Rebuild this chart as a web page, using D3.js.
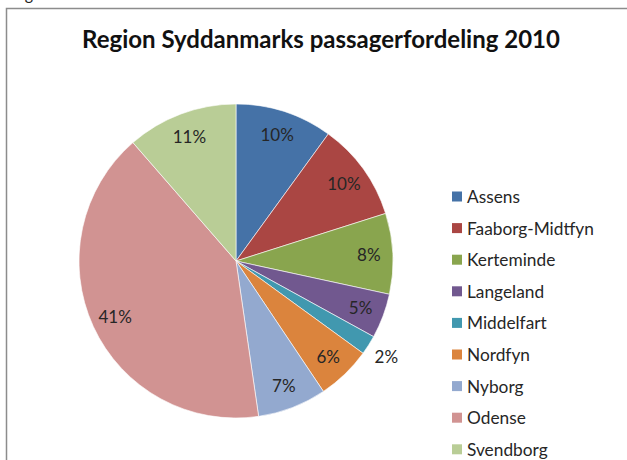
<!DOCTYPE html>
<html>
<head>
<meta charset="utf-8">
<script src="https://cdn.jsdelivr.net/npm/d3@7"></script>
<style>
  body { margin: 0; background: #fff; }
  svg { display: block; font-family: Lato, "Open Sans", sans-serif; }
</style>
</head>
<body>
<div id="chart"></div>
<script>
// data (share of passengers, %)
var regions = ['Assens', 'Faaborg-Midtfyn', 'Kerteminde', 'Langeland', 'Middelfart',
               'Nordfyn', 'Nyborg', 'Odense', 'Svendborg'];
var shares = [10.0, 10.1, 8.3, 4.6, 2.0, 5.6, 7.1, 40.9, 11.4];
var shareLabels = ['10%', '10%', '8%', '5%', '2%', '6%', '7%', '41%', '11%'];
var colors = ['#4572a7', '#aa4643', '#89a54e', '#71588f', '#4198af',
              '#db843d', '#93a9cf', '#d19392', '#b9cd96'];

var W = 627, H = 460;
var cx = 236, cy = 261, R = 157;

var svg = d3.select('#chart').append('svg')
    .attr('width', W).attr('height', H);

// frame of the embedded chart object
svg.append('path')
    .attr('d', 'M6.5,' + H + 'V8.5H' + W)
    .attr('fill', 'none')
    .attr('stroke', '#8c8c8c')
    .attr('stroke-width', 1.5);

// caption above the frame, mostly cut off
svg.append('text')
    .attr('x', 12).attr('y', 0)
    .attr('font-size', 16)
    .attr('fill', '#222')
    .text('Figur 1');

svg.append('text')
    .attr('x', 321).attr('y', 48)
    .attr('text-anchor', 'middle')
    .attr('font-size', 24)
    .attr('font-weight', 'bold')
    .attr('fill', '#111')
    .text('Region Syddanmarks passagerfordeling 2010');

var data = regions.map(function(name, i){
    return {name: name, value: shares[i], label: shareLabels[i], color: colors[i]};
});

var pie = d3.pie().sort(null).value(function(d){ return d.value; });
var arcs = pie(data);
var total = d3.sum(shares);

var arc = d3.arc().innerRadius(0).outerRadius(R);
var inLabel = d3.arc().innerRadius(133).outerRadius(133);
var outLabel = d3.arc().innerRadius(178).outerRadius(178);

var g = svg.append('g').attr('transform', 'translate(' + cx + ',' + cy + ')');

g.selectAll('path.slice')
    .data(arcs)
    .enter().append('path')
    .attr('class', 'slice')
    .attr('d', arc)
    .attr('fill', function(d){ return d.data.color; })
    .attr('stroke', '#fff')
    .attr('stroke-width', 0.6);

g.selectAll('text.pct')
    .data(arcs)
    .enter().append('text')
    .attr('class', 'pct')
    .attr('transform', function(d){
        var small = d.data.value / total < 0.03;
        return 'translate(' + (small ? outLabel : inLabel).centroid(d) + ')';
    })
    .attr('text-anchor', 'middle')
    .attr('dominant-baseline', 'central')
    .attr('font-size', 17)
    .attr('fill', '#262626')
    .text(function(d){ return d.data.label; });

// legend
var legend = svg.append('g').attr('transform', 'translate(452,196.5)');
var row = legend.selectAll('g')
    .data(data)
    .enter().append('g')
    .attr('transform', function(d, i){ return 'translate(0,' + (i * 31.6) + ')'; });

row.append('rect')
    .attr('x', 0).attr('y', -5)
    .attr('width', 10).attr('height', 10)
    .attr('fill', function(d){ return d.color; });

row.append('text')
    .attr('x', 15).attr('y', 0)
    .attr('dominant-baseline', 'central')
    .attr('font-size', 17.3)
    .attr('fill', '#262626')
    .text(function(d){ return d.name; });
</script>
</body>
</html>
